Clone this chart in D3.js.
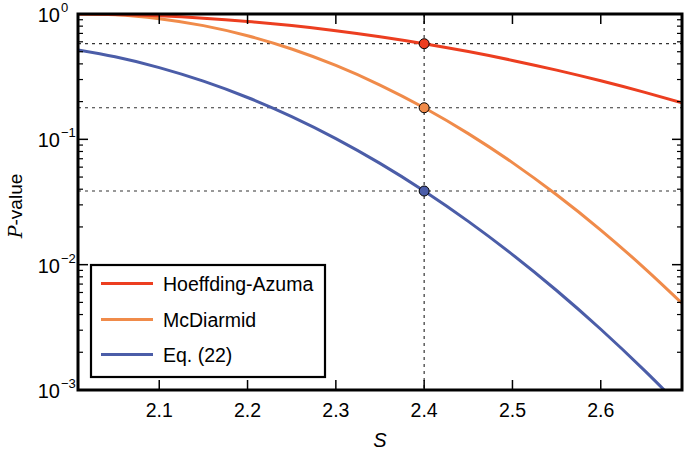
<!DOCTYPE html>
<html>
<head>
<meta charset="utf-8">
<script src="https://cdn.jsdelivr.net/npm/d3@7/dist/d3.min.js"></script>
<style>
  html, body { margin: 0; padding: 0; background: #fff; }
  svg { display: block; }
  text { font-family: "Liberation Sans", Arial, Helvetica, sans-serif; fill: #000; }
</style>
</head>
<body>
<svg id="chart" width="685" height="452"></svg>
<script>
// ---- data ----
const sValues   = [2.008, 2.05, 2.1, 2.15, 2.2, 2.25, 2.3, 2.35, 2.4, 2.45, 2.5, 2.55, 2.6, 2.65, 2.692];
const hoeffding = [0.9998, 0.9915, 0.9665, 0.9262, 0.8725, 0.8081, 0.7357, 0.6586, 0.5795, 0.5013, 0.4263, 0.3565, 0.2930, 0.2368, 0.1953];
const mcdiarmid = [0.9996, 0.9851, 0.9181, 0.8075, 0.6704, 0.5253, 0.3884, 0.2712, 0.1786, 0.1111, 0.0652, 0.0361, 0.01888, 0.00931, 0.00492];
const eq22      = [0.5164, 0.4552, 0.3736, 0.2912, 0.2157, 0.1517, 0.1013, 0.06427, 0.03873, 0.02216, 0.01204, 0.00622, 0.003052, 0.001421, 0.000719];
const seriesNames = ["Hoeffding-Azuma", "McDiarmid", "Eq. (22)"];
const markerS = 2.4;
const markerValues = [0.5795, 0.1786, 0.0387];
const xTicks = [2.1, 2.2, 2.3, 2.4, 2.5, 2.6];
const xTickLabels = ["2.1", "2.2", "2.3", "2.4", "2.5", "2.6"];
const yDecades = [1, 0.1, 0.01, 0.001];
const yExponents = ["0", "\u22121", "\u22122", "\u22123"];

const colors = ["#EC3E20", "#F08B4A", "#4B5DA8"];

// ---- layout ----
const svg = d3.select("#chart");
const L = 78, R = 682, T = 14, B = 390;
const x = d3.scaleLinear().domain([2.008, 2.692]).range([L, R]);
const y = d3.scaleLog().domain([0.001, 1]).range([B, T]);

svg.append("defs").append("clipPath").attr("id", "plotclip")
  .append("rect").attr("x", L).attr("y", T).attr("width", R - L).attr("height", B - T);

const plot = svg.append("g").attr("clip-path", "url(#plotclip)");

// dotted reference lines
plot.selectAll("line.href").data(markerValues).enter().append("line")
  .attr("x1", L).attr("x2", R)
  .attr("y1", d => y(d)).attr("y2", d => y(d))
  .attr("stroke", "#333").attr("stroke-width", 1.2).attr("stroke-dasharray", "3,4");
plot.append("line")
  .attr("x1", x(markerS)).attr("x2", x(markerS)).attr("y1", T).attr("y2", B)
  .attr("stroke", "#333").attr("stroke-width", 1.2).attr("stroke-dasharray", "3,4");

// curves
const allSeries = [hoeffding, mcdiarmid, eq22];
const line = d3.line().x(d => x(d[0])).y(d => y(d[1])).curve(d3.curveMonotoneX);
[2, 1, 0].forEach(i => {
  plot.append("path")
    .datum(sValues.map((s, j) => [s, allSeries[i][j]]))
    .attr("d", line)
    .attr("fill", "none").attr("stroke", colors[i]).attr("stroke-width", 3);
});

// markers
markerValues.forEach((v, i) => {
  plot.append("circle").attr("cx", x(markerS)).attr("cy", y(v)).attr("r", 5)
    .attr("fill", colors[i]).attr("stroke", "#000").attr("stroke-width", 1);
});

// ticks (inward, on all sides)
const tickG = svg.append("g").attr("stroke", "#000");
xTicks.forEach(t => {
  tickG.append("line").attr("x1", x(t)).attr("x2", x(t)).attr("y1", B).attr("y2", B - 10).attr("stroke-width", 1.5);
  tickG.append("line").attr("x1", x(t)).attr("x2", x(t)).attr("y1", T).attr("y2", T + 10).attr("stroke-width", 1.5);
});
yDecades.forEach(d => {
  tickG.append("line").attr("x1", L).attr("x2", L + 10).attr("y1", y(d)).attr("y2", y(d)).attr("stroke-width", 1.5);
  tickG.append("line").attr("x1", R).attr("x2", R - 10).attr("y1", y(d)).attr("y2", y(d)).attr("stroke-width", 1.5);
});
const minorVals = [];
[0.001, 0.01, 0.1].forEach(dec => { for (let k = 2; k <= 9; k++) minorVals.push(dec * k); });
minorVals.forEach(v => {
  tickG.append("line").attr("x1", L).attr("x2", L + 5).attr("y1", y(v)).attr("y2", y(v)).attr("stroke-width", 1.2);
  tickG.append("line").attr("x1", R).attr("x2", R - 5).attr("y1", y(v)).attr("y2", y(v)).attr("stroke-width", 1.2);
});

// frame
svg.append("rect").attr("x", L).attr("y", T).attr("width", R - L).attr("height", B - T)
  .attr("fill", "none").attr("stroke", "#000").attr("stroke-width", 3);

// x tick labels
xTicks.forEach((t, i) => {
  svg.append("text").attr("x", x(t)).attr("y", B + 27).attr("text-anchor", "middle")
    .attr("font-size", "19.5px").text(xTickLabels[i]);
});

// y tick labels
yDecades.forEach((d, i) => {
  svg.append("text").attr("x", 60).attr("y", y(d) + 8).attr("text-anchor", "end")
    .attr("font-size", "20px").text("10");
  svg.append("text").attr("x", 61).attr("y", y(d) - 2).attr("text-anchor", "start")
    .attr("font-size", "13px").text(yExponents[i]);
});

// axis labels
svg.append("text").attr("x", x(2.35)).attr("y", 447).attr("text-anchor", "middle")
  .attr("font-family", "'DejaVu Serif', 'Liberation Serif', serif").attr("font-style", "italic")
  .attr("font-size", "20px").text("S");
const yl = svg.append("text").attr("transform", "translate(22,206) rotate(-90)")
  .attr("text-anchor", "middle").attr("font-size", "19px");
yl.append("tspan").attr("font-family", "'DejaVu Serif', 'Liberation Serif', serif").attr("font-style", "italic").text("P");
yl.append("tspan").text("-value");

// legend
const lg = svg.append("g");
lg.append("rect").attr("x", 91).attr("y", 265).attr("width", 234).attr("height", 112)
  .attr("fill", "#fff").attr("stroke", "#000").attr("stroke-width", 2.2);
const rowY = [283.5, 319.5, 354.5];
seriesNames.forEach((n, i) => {
  lg.append("line").attr("x1", 101).attr("x2", 153).attr("y1", rowY[i]).attr("y2", rowY[i])
    .attr("stroke", colors[i]).attr("stroke-width", 3);
  lg.append("text").attr("x", 163).attr("y", rowY[i] + 7).attr("font-size", "19.5px").text(n);
});
</script>
</body>
</html>
